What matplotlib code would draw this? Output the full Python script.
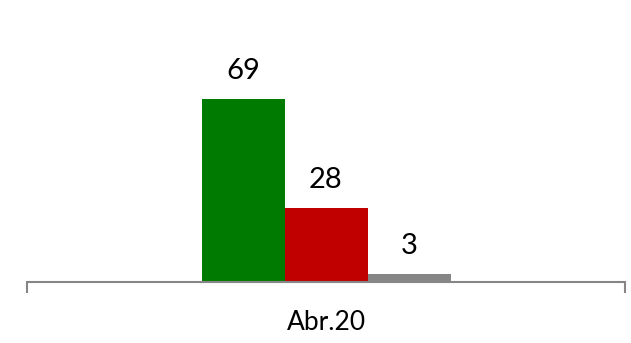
import matplotlib
matplotlib.use('Agg')
import matplotlib.pyplot as plt

plt.rcParams['font.family'] = ['Lato', 'DejaVu Sans']

category = 'Abr.20'
series = ['A', 'B', 'C']
values = [69, 28, 3]
colors = ['#007a00', '#c00000', '#868686']

W, H = 631, 343
fig = plt.figure(figsize=(W / 100, H / 100), dpi=100)
ax = fig.add_axes([27 / W, (H - 282) / H, 598 / W, 282 / H])

bw = 83 / 598
offsets = [-bw, 0, bw]
for off, val, col in zip(offsets, values, colors):
    ax.bar(off, val, width=bw, color=col, linewidth=0)
    ax.annotate(str(val), (off, val), xytext=(0, 20), textcoords='offset points',
                ha='center', va='center', fontsize=21, color='black')

ax.set_xlim(-0.5, 0.5)
ax.set_ylim(0, 282 / 2.652)

for s in ['top', 'right', 'left']:
    ax.spines[s].set_visible(False)
ax.spines['bottom'].set_color('#868686')
ax.spines['bottom'].set_linewidth(1.5)

ax.set_yticks([])
ax.set_xticks([0])
ax.set_xticklabels([category], fontsize=19)
ax.tick_params(axis='x', which='major', length=0, pad=20)
ax.set_xticks([-0.5, 0.5], minor=True)
ax.tick_params(axis='x', which='minor', length=8, width=1.5, color='#868686')

fig.savefig('out.png', dpi=100)
